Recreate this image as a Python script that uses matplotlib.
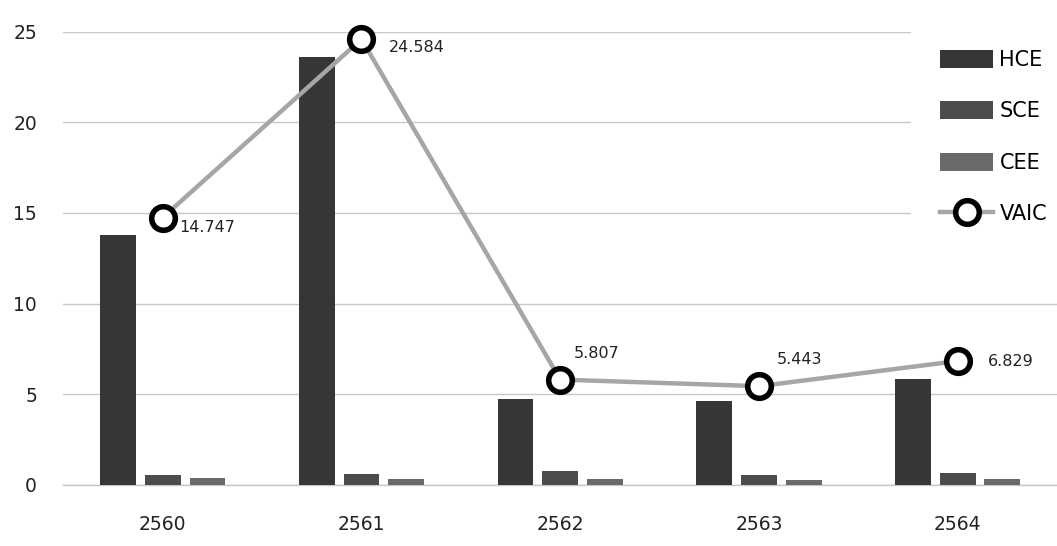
import numpy as np
import matplotlib
matplotlib.use("Agg")
import matplotlib.pyplot as plt

# values
years = ["2560", "2561", "2562", "2563", "2564"]
hce = [13.8, 23.62, 4.75, 4.6, 5.85]
sce = [0.55, 0.62, 0.75, 0.57, 0.65]
cee = [0.40, 0.34, 0.30, 0.27, 0.30]
vaic = [14.747, 24.584, 5.807, 5.443, 6.829]
vaic_labels = ["14.747", "24.584", "5.807", "5.443", "6.829"]
# label offsets in points (dx, dy) relative to marker
label_offsets = [(12, -7), (20, -6), (10, 19), (13, 19), (22, 0)]

fig = plt.figure(figsize=(10.57, 5.46), dpi=100)
ax = fig.add_axes([0.06, 0.112, 0.94, 0.83])

x = np.arange(len(years))
w = 0.18
step = 0.225

b1 = ax.bar(x - step, hce, width=w, color="#363636", label="HCE", zorder=2)
b2 = ax.bar(x, sce, width=w, color="#4c4c4c", label="SCE", zorder=2)
b3 = ax.bar(x + step, cee, width=w, color="#6a6a6a", label="CEE", zorder=2)

ln, = ax.plot(x, vaic, color="#a6a6a6", linewidth=3.2, marker="o", markersize=17,
              markerfacecolor="white", markeredgecolor="black", markeredgewidth=4,
              label="VAIC", zorder=4, clip_on=False)

for xi, v, txt, (dx, dy) in zip(x, vaic, vaic_labels, label_offsets):
    ax.annotate(txt, (xi, v), xytext=(dx, dy), textcoords="offset points",
                ha="left", va="center", fontsize=11.5, color="#222222", zorder=5)

ax.set_xlim(-0.5, len(years) - 0.5)
ax.set_ylim(0, 25)
ax.set_yticks([0, 5, 10, 15, 20, 25])
ax.set_xticks(x)
ax.set_xticklabels(years)
ax.tick_params(axis="both", length=0, labelsize=13.5, colors="#222222")
ax.tick_params(axis="x", pad=22)
ax.tick_params(axis="y", pad=19)

ax.grid(axis="y", color="#c8c8c8", linewidth=1.0, zorder=0)
ax.axhline(0, color="#c8c8c8", linewidth=1.0, zorder=1, clip_on=False)
ax.set_axisbelow(True)
for s in ax.spines.values():
    s.set_visible(False)

leg = ax.legend([b1, b2, b3, ln], ["HCE", "SCE", "CEE", "VAIC"],
                loc="upper left", bbox_to_anchor=(0.862, 0.962),
                bbox_transform=fig.transFigure, fontsize=15,
                handlelength=2.55, handleheight=0.96, labelspacing=1.5,
                handletextpad=0.3, borderpad=1.39, borderaxespad=0,
                frameon=True, fancybox=False)
leg.get_frame().set_facecolor("white")
leg.get_frame().set_edgecolor("none")
leg.get_frame().set_alpha(1)
leg.set_zorder(10)

fig.savefig("out.png", dpi=100)
